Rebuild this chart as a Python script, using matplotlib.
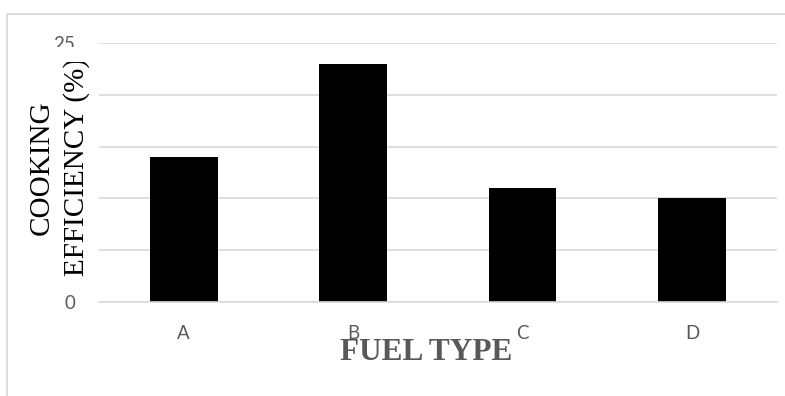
import matplotlib
matplotlib.use("Agg")
import matplotlib.pyplot as plt
from matplotlib.lines import Line2D
from matplotlib.patches import Rectangle

# Cooking efficiency by fuel type
fuel_types = ["A", "B", "C", "D"]
efficiency = [14, 23, 11, 10]
y_ticks = [0, 5, 10, 15, 20, 25]
y_tick_labels = ["0", "", "", "", "", "25"]

GRID = "#d9d9d9"
LABEL_GREY = "#595959"
W, H = 785, 396

fig = plt.figure(figsize=(W / 100, H / 100), dpi=100)
ax = fig.add_axes([0.1261, 0.2381, 0.8633, 0.6521])

x = range(len(fuel_types))
ax.bar(x, efficiency, width=0.4, color="black", zorder=2)

ax.set_xlim(-0.5, len(fuel_types) - 0.5)
ax.set_ylim(0, 25)
ax.set_yticks(y_ticks)
ax.set_yticklabels(y_tick_labels)
ax.set_xticks(list(x))
ax.set_xticklabels(fuel_types)

ax.grid(axis="y", color=GRID, linewidth=1.2, zorder=0)
ax.set_axisbelow(True)
for side in ("top", "right", "left"):
    ax.spines[side].set_visible(False)
ax.spines["bottom"].set_color(GRID)
ax.spines["bottom"].set_linewidth(1.2)
ax.spines["bottom"].set_zorder(3)

ax.tick_params(axis="both", length=0, labelcolor=LABEL_GREY, labelsize=13.5)
ax.tick_params(axis="x", pad=17)
ax.tick_params(axis="y", pad=17)
for lab in ax.get_xticklabels() + ax.get_yticklabels():
    lab.set_fontfamily("Lato")

# axis titles; the title box sits over the lower half of the top tick label
fig.add_artist(Rectangle((20 / W, 1 - 62 / H), 75 / W, 15 / H,
                         transform=fig.transFigure, fc="white", ec="none", zorder=4))
ax.text(-0.0583, 0.52, "COOKING\nEFFICIENCY (%)", transform=ax.transAxes,
        rotation=90, ha="center", va="center", multialignment="center",
        fontsize=21, family="Liberation Serif", color="black", linespacing=1.4,
        zorder=5)
fig.text(425.7 / W, 1 - 353 / H, "FUEL TYPE", ha="center", va="center",
         fontsize=22.5, fontweight="bold", family="Liberation Serif", color=LABEL_GREY,
         zorder=5)

# chart area border
fig.add_artist(Line2D([7 / W, 7 / W, 1.0], [0.0, 1 - 14 / H, 1 - 14 / H],
                      transform=fig.transFigure, color=GRID, linewidth=1.3))

fig.savefig("out.png", dpi=100)
